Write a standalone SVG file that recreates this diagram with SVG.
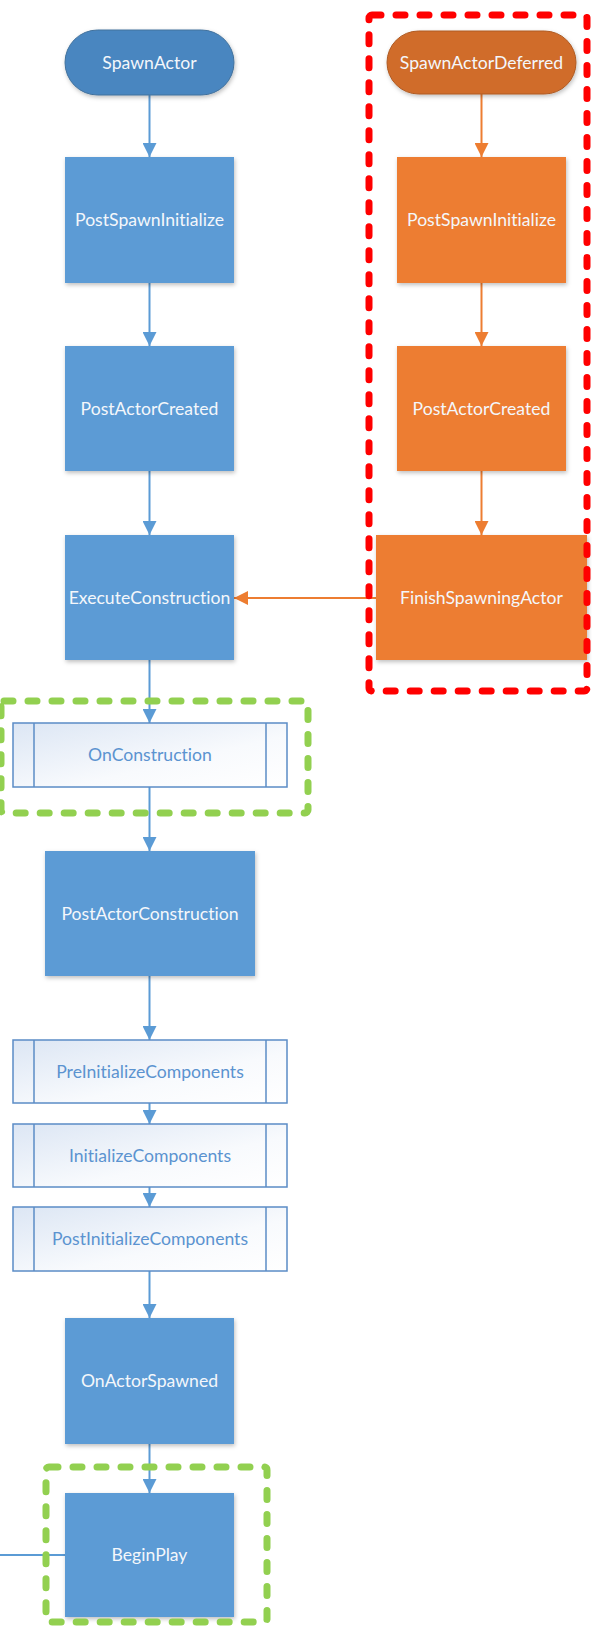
<svg xmlns="http://www.w3.org/2000/svg" width="592" height="1628" viewBox="0 0 592 1628">
<style>
text{font-family:Lato,"Open Sans","DejaVu Sans",sans-serif;font-size:17.6px;text-anchor:middle;font-variant-ligatures:none}
.wt{fill:#F4F7FB}
.bt{fill:#5B93D0}
.blue{fill:#5B9BD5}
.orange{fill:#ED7D31}
.sub{fill:url(#subg);stroke:#5B8CC6;stroke-width:1.5}
.subl{stroke:#5B8CC6;stroke-width:1.5}
.cb{stroke:#5B9BD5;stroke-width:2;fill:none;marker-end:url(#ab)}
.co{stroke:#ED7D31;stroke-width:2;fill:none;marker-end:url(#ao)}
.red{fill:none;stroke:#FF0000;stroke-width:7;stroke-dasharray:9 15;stroke-linecap:round;stroke-linejoin:round}
.green{fill:none;stroke:#92D050;stroke-width:7;stroke-dasharray:9 15;stroke-linecap:round;stroke-linejoin:round}
</style>
<defs>
<linearGradient id="subg" x1="0" y1="0" x2="1" y2="1">
<stop offset="0" stop-color="#DCE6F4"/>
<stop offset="0.6" stop-color="#F8FAFD"/>
<stop offset="1" stop-color="#FFFFFF"/>
</linearGradient>
<filter id="sh" x="-10%" y="-10%" width="125%" height="130%">
<feDropShadow dx="1" dy="2" stdDeviation="2" flood-color="#000" flood-opacity="0.25"/>
</filter>
<marker id="ab" markerUnits="userSpaceOnUse" markerWidth="14" markerHeight="14" refX="14" refY="7" orient="auto">
<path d="M0,0 L14,7 L0,14 z" fill="#5B9BD5"/>
</marker>
<marker id="ao" markerUnits="userSpaceOnUse" markerWidth="14" markerHeight="14" refX="14" refY="7" orient="auto">
<path d="M0,0 L14,7 L0,14 z" fill="#ED7D31"/>
</marker>
</defs>

<g id="connectors">
<line class="cb" x1="149.5" y1="95" x2="149.5" y2="157"/>
<line class="cb" x1="149.5" y1="283" x2="149.5" y2="346"/>
<line class="cb" x1="149.5" y1="471" x2="149.5" y2="535"/>
<line class="cb" x1="149.5" y1="660" x2="149.5" y2="723"/>
<line class="cb" x1="149.5" y1="787" x2="149.5" y2="851"/>
<line class="cb" x1="149.5" y1="976" x2="149.5" y2="1040"/>
<line class="cb" x1="149.5" y1="1103" x2="149.5" y2="1124"/>
<line class="cb" x1="149.5" y1="1187" x2="149.5" y2="1207"/>
<line class="cb" x1="149.5" y1="1271" x2="149.5" y2="1318"/>
<line class="cb" x1="149.5" y1="1444" x2="149.5" y2="1493"/>
<line x1="0" y1="1555" x2="66" y2="1555" stroke="#5B9BD5" stroke-width="2"/>
<line class="co" x1="481.5" y1="94" x2="481.5" y2="157"/>
<line class="co" x1="481.5" y1="283" x2="481.5" y2="346"/>
<line class="co" x1="481.5" y1="471" x2="481.5" y2="535"/>
<line class="co" x1="376" y1="598" x2="234" y2="598"/>
</g>

<g id="SpawnActor">
<rect x="65" y="30" width="169" height="65" rx="32.5" fill="#4A86C0" stroke="#41719C" stroke-width="1" filter="url(#sh)"/>
<text class="wt" x="149.5" y="68.5">SpawnActor</text>
</g>
<g id="PostSpawnInitialize">
<rect class="blue" x="65" y="157" width="169" height="126" filter="url(#sh)"/>
<text class="wt" x="149.5" y="226">PostSpawnInitialize</text>
</g>
<g id="PostActorCreated">
<rect class="blue" x="65" y="346" width="169" height="125" filter="url(#sh)"/>
<text class="wt" x="149.5" y="414.5">PostActorCreated</text>
</g>
<g id="ExecuteConstruction">
<rect class="blue" x="65" y="535" width="169" height="125" filter="url(#sh)"/>
<text class="wt" x="149.5" y="603.5">ExecuteConstruction</text>
</g>
<g id="OnConstruction">
<rect class="sub" x="13" y="723" width="274" height="64"/>
<line class="subl" x1="34" y1="723" x2="34" y2="787"/>
<line class="subl" x1="266" y1="723" x2="266" y2="787"/>
<text class="bt" x="150" y="761">OnConstruction</text>
</g>
<g id="PostActorConstruction">
<rect class="blue" x="45" y="851" width="210" height="125" filter="url(#sh)"/>
<text class="wt" x="150" y="919.5">PostActorConstruction</text>
</g>
<g id="PreInitializeComponents">
<rect class="sub" x="13" y="1040" width="274" height="63"/>
<line class="subl" x1="34" y1="1040" x2="34" y2="1103"/>
<line class="subl" x1="266" y1="1040" x2="266" y2="1103"/>
<text class="bt" x="150" y="1077.5">PreInitializeComponents</text>
</g>
<g id="InitializeComponents">
<rect class="sub" x="13" y="1124" width="274" height="63"/>
<line class="subl" x1="34" y1="1124" x2="34" y2="1187"/>
<line class="subl" x1="266" y1="1124" x2="266" y2="1187"/>
<text class="bt" x="150" y="1161.5">InitializeComponents</text>
</g>
<g id="PostInitializeComponents">
<rect class="sub" x="13" y="1207" width="274" height="64"/>
<line class="subl" x1="34" y1="1207" x2="34" y2="1271"/>
<line class="subl" x1="266" y1="1207" x2="266" y2="1271"/>
<text class="bt" x="150" y="1245">PostInitializeComponents</text>
</g>
<g id="OnActorSpawned">
<rect class="blue" x="65" y="1318" width="169" height="126" filter="url(#sh)"/>
<text class="wt" x="149.5" y="1387">OnActorSpawned</text>
</g>
<g id="BeginPlay">
<rect class="blue" x="65" y="1493" width="169" height="124" filter="url(#sh)"/>
<text class="wt" x="149.5" y="1561">BeginPlay</text>
</g>

<g id="SpawnActorDeferred">
<rect x="387" y="31" width="189" height="63" rx="31.5" fill="#D06C2C" stroke="#AE5A21" stroke-width="1" filter="url(#sh)"/>
<text class="wt" x="481.5" y="68.5">SpawnActorDeferred</text>
</g>
<g id="PostSpawnInitialize2">
<rect class="orange" x="397" y="157" width="169" height="126" filter="url(#sh)"/>
<text class="wt" x="481.5" y="226">PostSpawnInitialize</text>
</g>
<g id="PostActorCreated2">
<rect class="orange" x="397" y="346" width="169" height="125" filter="url(#sh)"/>
<text class="wt" x="481.5" y="414.5">PostActorCreated</text>
</g>
<g id="FinishSpawningActor">
<rect class="orange" x="376" y="535" width="211" height="125" filter="url(#sh)"/>
<text class="wt" x="481.5" y="603.5">FinishSpawningActor</text>
</g>

<g id="groups">
<rect class="red" x="369" y="15" width="218" height="676" rx="3"/>
<rect class="green" x="1" y="701" width="307" height="112" rx="3"/>
<rect class="green" x="46" y="1467" width="221" height="155" rx="3"/>
</g>
</svg>
